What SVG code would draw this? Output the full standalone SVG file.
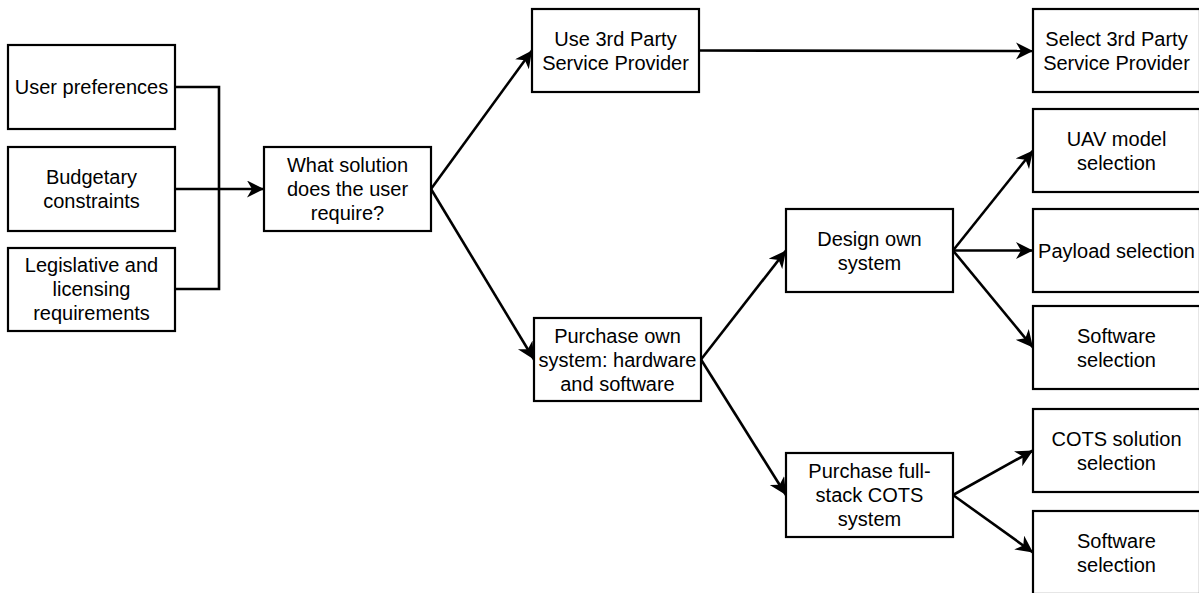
<svg xmlns="http://www.w3.org/2000/svg" width="1199" height="593" viewBox="0 0 1199 593">
  <style>
    .box rect { fill: #ffffff; stroke: #000000; stroke-width: 2.2; }
    .box text { font-family: "Liberation Sans", Arial, sans-serif; font-size: 20px; fill: #000000; text-anchor: middle; }
    .edge { fill: none; stroke: #000000; stroke-width: 2.6; }
    .edge.arrow { marker-end: url(#arrow); }
  </style>
  <defs>
    <marker id="arrow" markerUnits="userSpaceOnUse" markerWidth="18" markerHeight="18" refX="17" refY="8.5" orient="auto" viewBox="0 0 18 18">
      <path d="M0,0 L17,8.5 L0,17 L5,8.5 Z" fill="#000000"/>
    </marker>
  </defs>

  <rect width="1199" height="593" fill="#ffffff"/>

  <!-- connectors -->
  <g id="connectors">
    <polyline class="edge" points="175,87 219,87 219,189"/>
    <polyline class="edge" points="175,289 219,289 219,189"/>
    <line class="edge arrow" x1="175" y1="189" x2="264" y2="189"/>
    <line class="edge arrow" x1="431" y1="189" x2="532" y2="50.5"/>
    <line class="edge arrow" x1="431" y1="189" x2="534" y2="359.5"/>
    <line class="edge arrow" x1="699" y1="50.5" x2="1033" y2="51"/>
    <line class="edge arrow" x1="701" y1="359.5" x2="786" y2="250.5"/>
    <line class="edge arrow" x1="701" y1="359.5" x2="786" y2="495"/>
    <line class="edge arrow" x1="953" y1="250.5" x2="1033" y2="150.5"/>
    <line class="edge arrow" x1="953" y1="250.5" x2="1033" y2="250.5"/>
    <line class="edge arrow" x1="953" y1="250.5" x2="1033" y2="347.5"/>
    <line class="edge arrow" x1="953" y1="495" x2="1033" y2="450.5"/>
    <line class="edge arrow" x1="953" y1="495" x2="1033" y2="552.5"/>
  </g>

  <!-- input factors -->
  <g id="user-preferences" class="box">
    <rect x="8" y="45" width="167" height="84"/>
    <text x="91.5" y="94">User preferences</text>
  </g>
  <g id="budgetary-constraints" class="box">
    <rect x="8" y="147" width="167" height="84"/>
    <text x="91.5" y="184">Budgetary</text>
    <text x="91.5" y="208">constraints</text>
  </g>
  <g id="legislative-requirements" class="box">
    <rect x="8" y="248" width="167" height="83"/>
    <text x="91.5" y="272">Legislative and</text>
    <text x="91.5" y="296">licensing</text>
    <text x="91.5" y="320">requirements</text>
  </g>

  <!-- decision -->
  <g id="what-solution" class="box">
    <rect x="264" y="147" width="167" height="84"/>
    <text x="347.5" y="172">What solution</text>
    <text x="347.5" y="196">does the user</text>
    <text x="347.5" y="220">require?</text>
  </g>

  <!-- options -->
  <g id="use-3rd-party" class="box">
    <rect x="532" y="9" width="167" height="83"/>
    <text x="615.5" y="45.5">Use 3rd Party</text>
    <text x="615.5" y="69.5">Service Provider</text>
  </g>
  <g id="purchase-own" class="box">
    <rect x="534" y="318" width="167" height="83"/>
    <text x="617.5" y="342.5">Purchase own</text>
    <text x="617.5" y="366.5">system: hardware</text>
    <text x="617.5" y="390.5">and software</text>
  </g>
  <g id="design-own" class="box">
    <rect x="786" y="209" width="167" height="83"/>
    <text x="869.5" y="245.5">Design own</text>
    <text x="869.5" y="269.5">system</text>
  </g>
  <g id="purchase-cots" class="box">
    <rect x="786" y="453" width="167" height="84"/>
    <text x="869.5" y="478">Purchase full-</text>
    <text x="869.5" y="502">stack COTS</text>
    <text x="869.5" y="526">system</text>
  </g>

  <!-- outcomes -->
  <g id="select-3rd-party" class="box">
    <rect x="1033" y="9" width="167" height="83"/>
    <text x="1116.5" y="45.5">Select 3rd Party</text>
    <text x="1116.5" y="69.5">Service Provider</text>
  </g>
  <g id="uav-model" class="box">
    <rect x="1033" y="109" width="167" height="83"/>
    <text x="1116.5" y="145.5">UAV model</text>
    <text x="1116.5" y="169.5">selection</text>
  </g>
  <g id="payload" class="box">
    <rect x="1033" y="209" width="167" height="83"/>
    <text x="1116.5" y="257.5">Payload selection</text>
  </g>
  <g id="software-design" class="box">
    <rect x="1033" y="306" width="167" height="83"/>
    <text x="1116.5" y="342.5">Software</text>
    <text x="1116.5" y="366.5">selection</text>
  </g>
  <g id="cots-solution" class="box">
    <rect x="1033" y="409" width="167" height="83"/>
    <text x="1116.5" y="445.5">COTS solution</text>
    <text x="1116.5" y="469.5">selection</text>
  </g>
  <g id="software-cots" class="box">
    <rect x="1033" y="511" width="167" height="83"/>
    <text x="1116.5" y="547.5">Software</text>
    <text x="1116.5" y="571.5">selection</text>
  </g>
</svg>
